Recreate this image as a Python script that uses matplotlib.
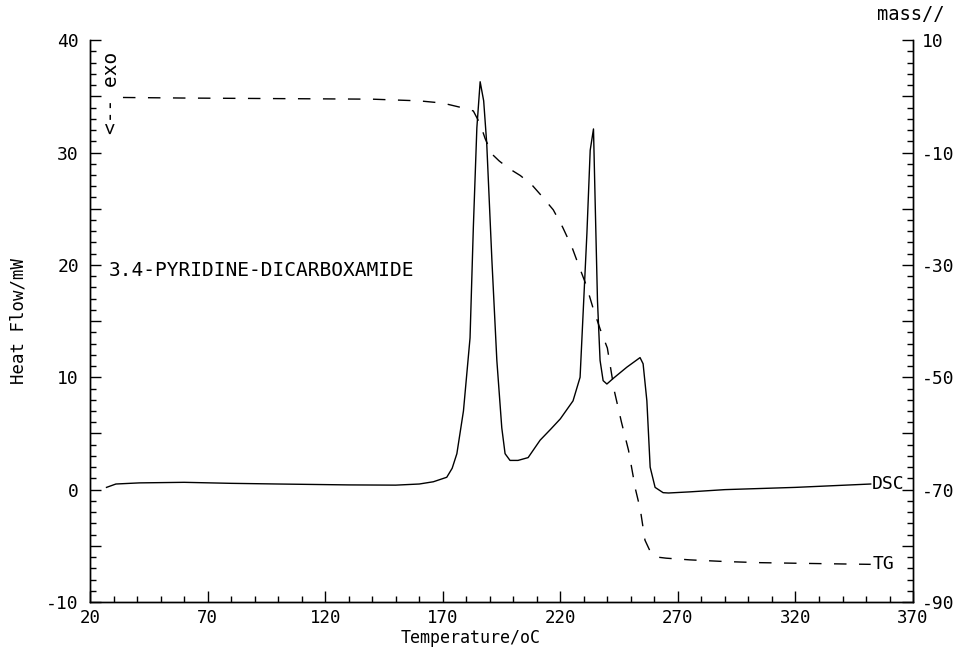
import matplotlib
matplotlib.use('Agg')
import matplotlib.pyplot as plt
from matplotlib.ticker import MultipleLocator, FuncFormatter

# DSC curve, heat flow in mW (left axis)
dsc_temp = [27, 31, 41, 60, 80, 100, 130, 150, 160, 166, 171.7, 174, 176, 178.8,
            181.6, 183, 184.5, 185.9, 187.4, 188.7, 190.9, 193.0, 195.1, 196.5,
            198.6, 202, 206.3, 211.4, 216, 220, 225.4, 228.4, 229.6, 231.3,
            232.7, 234.1, 234.8, 235.8, 236.9, 238.2, 239.8, 242.5, 248.3,
            253.9, 255.2, 256.8, 258.2, 260.3, 263.7, 266, 275, 290, 320, 352]
dsc_flow = [0.2, 0.5, 0.6, 0.65, 0.56, 0.5, 0.42, 0.4, 0.5, 0.7, 1.1, 1.9, 3.2, 7.0,
            13.5, 23.3, 32.2, 36.3, 34.6, 30.8, 20.4, 11.5, 5.5, 3.2,
            2.6, 2.6, 2.85, 4.4, 5.4, 6.3, 7.9, 10.0, 15.3, 22.8,
            30.2, 32.1, 25.7, 16.8, 11.5, 9.7, 9.4, 9.9, 10.9,
            11.75, 11.2, 7.9, 2.0, 0.2, -0.27, -0.3, -0.2, 0.0, 0.2, 0.5]

# TG curve, mass change in % (right axis)
tg_temp = [34, 60, 100, 140, 160, 170, 176, 180, 183, 186, 188, 191, 194, 198,
           203, 208, 212, 217, 221, 225, 228, 231, 234, 237, 240, 243, 246,
           249, 252, 254, 256, 258, 261, 265, 275, 290, 305, 320, 335, 352]
tg_mass = [-0.2, -0.3, -0.4, -0.5, -0.8, -1.2, -1.8, -2.2, -2.6, -5.0, -7.5,
           -10.3, -11.5, -12.8, -14.1, -15.8, -17.7, -20.2, -23.3, -26.9, -30.3,
           -33.6, -37.8, -41.5, -44.8, -52.5, -58.0, -63.0, -70.0, -73.5, -79.0,
           -80.8, -82.0, -82.2, -82.5, -82.8, -83.0, -83.1, -83.2, -83.3]

x_ticks = [20, 70, 120, 170, 220, 270, 320, 370]

plt.rcParams['font.family'] = 'DejaVu Sans Mono'

fig = plt.figure(figsize=(9.61, 6.48), dpi=100)
ax = fig.add_axes([0.0937, 0.071, 0.8564, 0.867])
ax2 = ax.twinx()

ax.plot(dsc_temp, dsc_flow, color='black', lw=1.0)
ax2.plot(tg_temp, tg_mass, color='black', lw=1.0, linestyle=(0, (9, 9)))

ax.set_xlim(20, 370)
ax.set_ylim(-10, 40)
ax2.set_ylim(-90, 10)

for a in (ax, ax2):
    a.spines['top'].set_visible(False)
    for s in a.spines.values():
        s.set_linewidth(1.0)

# bottom axis
ax.set_xticks(x_ticks)
ax.xaxis.set_minor_locator(MultipleLocator(10))
# left axis
ax.yaxis.set_major_locator(MultipleLocator(5))
ax.yaxis.set_minor_locator(MultipleLocator(1))
ax.yaxis.set_major_formatter(FuncFormatter(lambda v, p: f'{v:.0f}' if v % 10 == 0 else ''))
# right axis
ax2.yaxis.set_major_locator(MultipleLocator(10))
ax2.yaxis.set_minor_locator(MultipleLocator(2))
ax2.yaxis.set_major_formatter(FuncFormatter(lambda v, p: f'{v:.0f}' if (v - 10) % 20 == 0 else ''))

ax.tick_params(axis='both', which='major', direction='in', length=8, width=1,
               labelsize=13, pad=8)
ax.tick_params(axis='x', which='major', labelsize=12.5, pad=5)
ax.tick_params(axis='both', which='minor', direction='in', length=4, width=1)
ax.tick_params(axis='y', which='both', right=False)
ax2.tick_params(axis='y', which='major', direction='in', length=8, width=1,
                labelsize=13, pad=6)
ax2.tick_params(axis='y', which='minor', direction='in', length=4, width=1)

fig.text(0.019, 0.505, 'Heat Flow/mW', rotation=90, ha='center', va='center', fontsize=12.5)
fig.text(0.49, 0.015, 'Temperature/oC', ha='center', va='center', fontsize=12)
fig.text(0.913, 0.977, 'mass//', ha='left', va='center', fontsize=13.5)

ax.text(29.2, 35.3, '<-- exo', rotation=90, ha='center', va='center', fontsize=14)
ax.text(28, 19.5, '3.4-PYRIDINE-DICARBOXAMIDE', ha='left', va='center', fontsize=14)
ax.text(352.5, 0.5, 'DSC', ha='left', va='center', fontsize=13)
ax2.text(353, -83.3, 'TG', ha='left', va='center', fontsize=13)

fig.savefig('out.png', dpi=100)
